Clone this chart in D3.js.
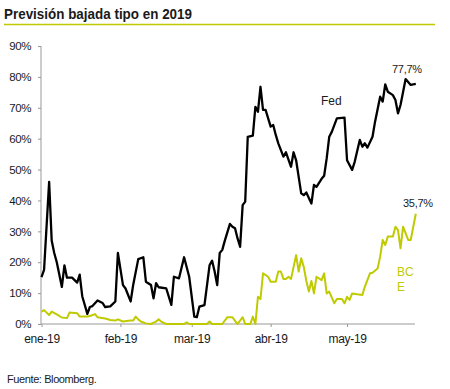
<!DOCTYPE html>
<html>
<head>
<meta charset="utf-8">
<script src="https://cdn.jsdelivr.net/npm/d3@7"></script>
<style>
  body { margin: 0; background: #fff; }
  text { font-family: "Liberation Sans", Arial, sans-serif; fill: #1a1a1a; }
</style>
</head>
<body>
<div id="container"></div>
<script>
// data (% probability of a rate cut)
const fedDates = ["2019-01-01","2019-01-02","2019-01-04","2019-01-05","2019-01-06","2019-01-07","2019-01-09","2019-01-10","2019-01-11","2019-01-13",
  "2019-01-15","2019-01-16","2019-01-17","2019-01-19","2019-01-20","2019-01-21","2019-01-23","2019-01-25","2019-01-26","2019-01-28",
  "2019-01-30","2019-01-31","2019-02-02","2019-02-03","2019-02-05","2019-02-06","2019-02-08","2019-02-10","2019-02-11","2019-02-13",
  "2019-02-14","2019-02-15","2019-02-16","2019-02-19","2019-02-21","2019-02-22","2019-02-24","2019-02-26","2019-02-28","2019-03-02",
  "2019-03-03","2019-03-04","2019-03-06","2019-03-08","2019-03-09","2019-03-10","2019-03-11","2019-03-12","2019-03-13","2019-03-14",
  "2019-03-16","2019-03-17","2019-03-18","2019-03-19","2019-03-20","2019-03-21","2019-03-22","2019-03-23","2019-03-25","2019-03-26",
  "2019-03-27","2019-03-28","2019-03-29","2019-03-30","2019-04-01","2019-04-02","2019-04-03","2019-04-04","2019-04-06","2019-04-07",
  "2019-04-09","2019-04-10","2019-04-11","2019-04-13","2019-04-14","2019-04-15","2019-04-17","2019-04-18","2019-04-19","2019-04-21",
  "2019-04-22","2019-04-23","2019-04-24","2019-04-25","2019-04-27","2019-04-30","2019-05-01","2019-05-03","2019-05-04","2019-05-06",
  "2019-05-07","2019-05-08","2019-05-09","2019-05-11","2019-05-12","2019-05-14","2019-05-15","2019-05-16","2019-05-17","2019-05-19",
  "2019-05-20","2019-05-21","2019-05-22","2019-05-24","2019-05-26","2019-05-28"];
const fedValues = [15.2,17.5,46,27,23,20,12,19,15,15,
  13.4,16,9,3.3,5.5,5.8,7.6,6.8,5.5,5.7,
  7.3,23,12.6,11.5,7.3,12.6,21,21.6,13.7,12.6,
  8.3,13.2,11.9,11.5,6.2,15.3,14.8,21.6,15.3,2.4,
  2.2,5.6,6.1,19,20.5,17,12.6,23,24,27,
  32.4,31.5,31,27.7,25,38.5,39.6,60.6,61,70.3,
  68.7,76.8,69.3,69.3,63.9,64.4,61.2,58.5,54.2,55.6,
  50.9,55.6,53,42.3,41.7,42.6,39,45,44.4,47,
  48,53.6,60.6,62.2,66.6,66.8,53,49.9,52.5,59.6,
  57.4,58.5,57.1,60.6,65.5,73.6,72,77.6,75.2,74.1,
  72.5,68.2,70.9,79.3,77.4,77.7];

const bceDates = ["2019-01-01","2019-01-02","2019-01-04","2019-01-05","2019-01-07","2019-01-09","2019-01-11","2019-01-12","2019-01-15","2019-01-16",
  "2019-01-19","2019-01-20","2019-01-22","2019-01-23","2019-01-26","2019-01-28","2019-01-30","2019-01-31","2019-02-02","2019-02-05",
  "2019-02-06","2019-02-07","2019-02-08","2019-02-09","2019-02-11","2019-02-13","2019-02-15","2019-02-16","2019-02-17","2019-02-19",
  "2019-02-26","2019-02-27","2019-02-28","2019-03-01","2019-03-07","2019-03-08","2019-03-09","2019-03-13","2019-03-15","2019-03-17",
  "2019-03-18","2019-03-19","2019-03-21","2019-03-22","2019-03-24","2019-03-25","2019-03-26","2019-03-27","2019-03-28","2019-03-29",
  "2019-03-31","2019-04-01","2019-04-03","2019-04-04","2019-04-05","2019-04-06","2019-04-07","2019-04-08","2019-04-09","2019-04-11",
  "2019-04-12","2019-04-13","2019-04-14","2019-04-15","2019-04-16","2019-04-17","2019-04-18","2019-04-19","2019-04-21","2019-04-22",
  "2019-04-23","2019-04-24","2019-04-26","2019-04-27","2019-04-29","2019-04-30","2019-05-01","2019-05-02","2019-05-03","2019-05-05",
  "2019-05-07","2019-05-08","2019-05-10","2019-05-11","2019-05-13","2019-05-14","2019-05-15","2019-05-16","2019-05-17","2019-05-19",
  "2019-05-20","2019-05-21","2019-05-22","2019-05-23","2019-05-25","2019-05-26","2019-05-28"];
const bceValues = [4,4.5,2.9,4,3.1,2.1,1.9,3.7,3.5,2.4,
  2.4,2.6,3.2,2.2,1.8,1.3,1.1,1.5,0.8,1.1,
  1.1,2.4,1.5,0.8,0.2,0,0.8,1.5,0.8,0,
  0,0.5,0,0,0,0.8,0,0,2.2,2.2,
  1,0,2.2,0,0,2.4,0,8.8,8.1,16.4,
  15.3,13.7,13.7,17,17,14.6,14.6,15.3,14.6,22.3,
  17,21.3,18.5,14,10.5,13.9,9.9,15.3,14.2,16.4,
  9.9,10.5,6.7,8.1,8.1,6.7,8.8,7.8,9.9,9.6,
  9.4,12.1,16.4,16.6,18,21.8,27.2,25.6,28.3,28.3,
  31.5,30.4,24.5,31.5,27.2,27.2,35.7];

const yTicks = [0,10,20,30,40,50,60,70,80,90];
const xTicks = ["2019-01-01","2019-02-01","2019-03-01","2019-04-01","2019-05-01"];
const monthNames = ["ene","feb","mar","abr","may"];

const parse = d3.timeParse("%Y-%m-%d");
const fed = fedDates.map((d, i) => ({ date: parse(d), v: fedValues[i] }));
const bce = bceDates.map((d, i) => ({ date: parse(d), v: bceValues[i] }));

const W = 450, H = 389;
const green = "#bfcb00";

const svg = d3.select("#container").append("svg")
  .attr("width", W).attr("height", H);

// title + rule
svg.append("text")
  .attr("x", 4).attr("y", 19)
  .attr("textLength", 188).attr("lengthAdjust", "spacingAndGlyphs")
  .style("font-size", "15px").style("font-weight", "bold")
  .text("Previsión bajada tipo en 2019");
svg.append("line")
  .attr("x1", 4).attr("x2", 435).attr("y1", 24.5).attr("y2", 24.5)
  .attr("stroke", green).attr("stroke-width", 1.6);

const x = d3.scaleTime()
  .domain([parse("2019-01-01"), parse("2019-05-28")])
  .range([41.5, 415.8]);
const y = d3.scaleLinear().domain([0, 90]).range([324, 46]);

// y axis
const yAxis = svg.append("g")
  .attr("transform", "translate(41,0)")
  .call(d3.axisLeft(y).tickValues(yTicks).tickSize(3).tickPadding(7).tickFormat(d => d + "%"));
yAxis.select(".domain").attr("stroke", "#999").attr("d", "M0,46V324");
yAxis.selectAll(".tick line").attr("stroke", "#999");
yAxis.selectAll("text").style("font-size", "11.5px").attr("fill", "#1a1a1a")
  .attr("letter-spacing", "-0.4px");

// x axis
const xAxis = svg.append("g")
  .attr("transform", "translate(0,324)")
  .call(d3.axisBottom(x).tickValues(xTicks.map(parse)).tickSize(3).tickPadding(7)
    .tickFormat(d => monthNames[d.getMonth()] + "-19"));
xAxis.select(".domain").attr("stroke", "#999").attr("d", "M41,0H415");
xAxis.selectAll(".tick line").attr("stroke", "#999");
xAxis.selectAll("text").style("font-size", "12px").attr("fill", "#1a1a1a")
  .attr("letter-spacing", "-0.3px");

const line = d3.line().x(d => x(d.date)).y(d => y(d.v));

svg.append("path").datum(bce)
  .attr("fill", "none").attr("stroke", green).attr("stroke-width", 2)
  .attr("stroke-linejoin", "round").attr("d", line);
svg.append("path").datum(fed)
  .attr("fill", "none").attr("stroke", "#000").attr("stroke-width", 2.3)
  .attr("stroke-linejoin", "round").attr("d", line);

// labels
svg.append("text").attr("x", 321).attr("y", 105).style("font-size", "12px").text("Fed");
svg.append("text").attr("x", 392).attr("y", 73).style("font-size", "11px")
  .attr("letter-spacing", "-0.3px").text("77,7%");
svg.append("text").attr("x", 403).attr("y", 207).style("font-size", "11px")
  .attr("letter-spacing", "-0.3px").text("35,7%");
svg.append("text").attr("x", 397).attr("y", 276).style("font-size", "12px")
  .style("fill", green).text("BC");
svg.append("text").attr("x", 397).attr("y", 291).style("font-size", "12px")
  .style("fill", green).text("E");

svg.append("text").attr("x", 7).attr("y", 383).style("font-size", "11px")
  .attr("letter-spacing", "-0.4px").text("Fuente: Bloomberg.");
</script>
</body>
</html>
